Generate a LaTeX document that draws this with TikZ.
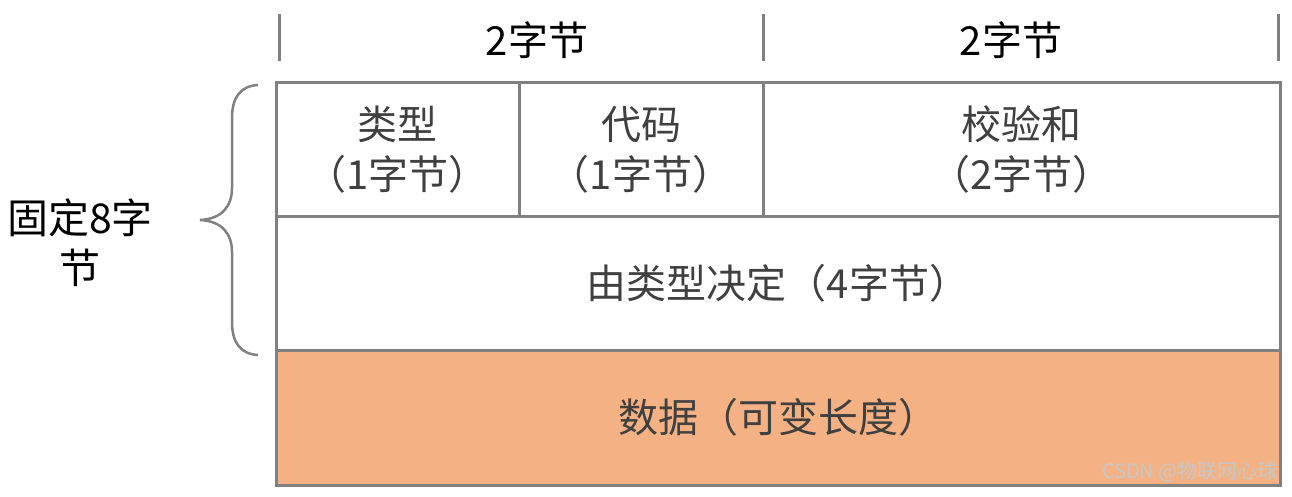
\documentclass[tikz,border=0pt]{standalone}
\usepackage{fontspec}
\setmainfont{Noto Sans CJK SC}
\usepackage{xcolor}
\usetikzlibrary{positioning}
\definecolor{linegray}{HTML}{808080}
\definecolor{textgray}{HTML}{404040}
\definecolor{dataorange}{HTML}{F4B183}
\tikzset{
    cell/.style={rectangle,draw=linegray,line width=3pt,inner sep=0pt,outer sep=0pt,
        align=center,text=textgray,font=\fontsize{40}{50}\selectfont},
    tickline/.style={draw=linegray,line width=3pt},
    hdr/.style={text=black,font=\fontsize{40}{50}\selectfont,inner sep=0pt},
    sidelabel/.style={text=black,align=center,font=\fontsize{41}{50}\selectfont,inner sep=0pt},
    curly/.style={draw=linegray,line width=2.5pt},
    wmark/.style={text=black!22,font=\fontsize{20}{24}\selectfont,inner sep=0pt}
}
\begin{document}
\begin{tikzpicture}[x=1pt,y=-1pt]
    \useasboundingbox[fill=white] (0,0) rectangle (1292,497);

    \node[cell,minimum width=243pt,minimum height=133pt,anchor=north west] (type) at (276,83) {类型\\（1字节）};
    \node[cell,minimum width=244pt,minimum height=133pt,right=0pt of type] (code) {代码\\（1字节）};
    \node[cell,minimum width=517pt,minimum height=133pt,right=0pt of code] (checksum) {校验和\\（2字节）};
    \node[cell,minimum width=1004pt,minimum height=134pt,below=0pt of type.south west,anchor=north west] (rest) {由类型决定（4字节）};
    \node[cell,fill=dataorange,minimum width=1004pt,minimum height=135pt,below=0pt of rest] (data) {数据（可变长度）};

    \foreach \x in {279,763,1278}
        \draw[tickline] (\x,14) -- (\x,61);
    \node[hdr] (hdrleft) at (537,40) {2字节};
    \node[hdr] (hdrright) at (1011,40) {2字节};

    \draw[curly] (258,85) .. controls (240,86) and (232,98) .. (232,118) -- (232,188)
        .. controls (232,206) and (222,219) .. (200,220)
        .. controls (222,221) and (232,234) .. (232,252) -- (232,322)
        .. controls (232,342) and (240,354) .. (258,355);
    \node[sidelabel] (fixed) at (80,243) {固定8字\\节};

    \node[wmark,anchor=south east] (csdn) at (1278,482) {CSDN @物联网心球};
\end{tikzpicture}
\end{document}
